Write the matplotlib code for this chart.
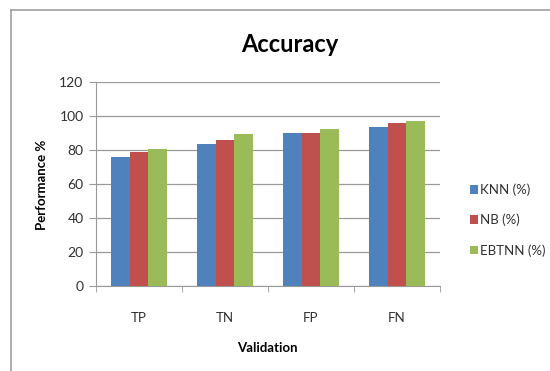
import matplotlib
matplotlib.use("Agg")
import matplotlib.pyplot as plt
import numpy as np
from matplotlib.patches import Patch
from matplotlib.lines import Line2D

plt.rcParams["font.family"] = ["Lato", "DejaVu Sans"]

# accuracy per validation measure
categories = ["TP", "TN", "FP", "FN"]
knn = [76, 83.5, 90.2, 93.5]
nb = [78.8, 86, 90.2, 96]
ebtnn = [80.5, 89.4, 92.5, 96.8]
series_names = ["KNN (%)", "NB (%)", "EBTNN (%)"]
colors = ["#4F81BD", "#C0504D", "#9BBB59"]
yticks = [0, 20, 40, 60, 80, 100, 120]

fig = plt.figure(figsize=(5.5, 3.71), dpi=100)
ax = fig.add_axes([96 / 550, 1 - 286 / 371, 344 / 550, 204 / 371])

x = np.arange(len(categories))
width = 0.22
for i, (vals, c) in enumerate(zip([knn, nb, ebtnn], colors)):
    ax.bar(x + (i - 1) * width, vals, width, color=c, zorder=3)

ax.set_xlim(-0.5, len(categories) - 0.5)
ax.set_ylim(0, 120)
ax.set_yticks(yticks)
ax.yaxis.grid(True, color="#999999", linewidth=0.9, zorder=0)

ax.set_xticks(x)
ax.set_xticklabels(categories)
ax.set_xticks(np.arange(-0.5, len(categories)), minor=True)
ax.tick_params(axis="x", which="major", length=0, pad=19, labelsize=9.5, labelcolor="#303030")
ax.tick_params(axis="x", which="minor", length=4, color="#999999")
ax.tick_params(axis="y", length=5, color="#999999", labelsize=10, labelcolor="#303030", pad=4)

for s in ["top", "right"]:
    ax.spines[s].set_visible(False)
for s in ["left", "bottom"]:
    ax.spines[s].set_color("#999999")

fig.text(290 / 550, 1 - 45 / 371, "Accuracy", ha="center", va="center",
         fontsize=17, fontweight="bold")
fig.text(42 / 550, 1 - 185 / 371, "Performance %", ha="center", va="center",
         rotation=90, fontsize=9.5, fontweight="bold")
fig.text(267 / 550, 1 - 348 / 371, "Validation", ha="center", va="center",
         fontsize=9.5, fontweight="bold")

handles = [Patch(facecolor=c) for c in colors]
fig.legend(handles, series_names, loc="center left",
           bbox_to_anchor=(458 / 550, 1 - 220 / 371), frameon=False,
           handlelength=0.65, handleheight=0.65, handletextpad=0.15,
           labelspacing=1.35, fontsize=9.5, labelcolor="#303030")

# outer chart frame
fig.add_artist(Line2D([11 / 550, 11 / 550], [0, 1 - 10 / 371],
                      transform=fig.transFigure, color="#A0A0A0", linewidth=1.2))
fig.add_artist(Line2D([11 / 550, 1], [1 - 10 / 371, 1 - 10 / 371],
                      transform=fig.transFigure, color="#A0A0A0", linewidth=1.2))

fig.savefig("out.png", dpi=100)
